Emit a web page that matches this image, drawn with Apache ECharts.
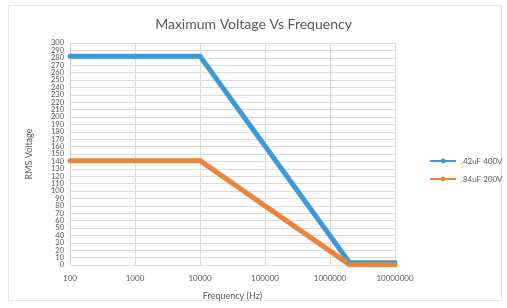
<!DOCTYPE html>
<html>
<head>
<meta charset="utf-8">
<script src="https://cdn.jsdelivr.net/npm/echarts@6/dist/echarts.min.js"></script>
<style>
  html, body { margin: 0; padding: 0; background: #fff; }
  #chart { width: 507px; height: 308px; }
</style>
</head>
<body>
<div id="chart"></div>
<script>
// frequency (Hz) breakpoints and voltages
const freq = [100, 10000, 2000000, 10000000];
const v400 = [282, 282, 3, 3];
const v200 = [141, 141, 0.5, 0.5];
const seriesNames = ['.42uF 400V', '.84uF 200V'];
const colors = ['#3e9ad6', '#e8853f'];
// labels that ECharts drops next to the end labels, drawn by a second axis
const edgeTicks = [10, 290];

const chart = echarts.init(document.getElementById('chart'));

const pairs = (xs, ys) => xs.map((x, i) => [x, ys[i]]);

const yLabel = { fontSize: 7.5, color: '#595959', margin: 6 };

const option = {
  animation: false,
  textStyle: { fontFamily: 'Lato, "Open Sans", sans-serif' },
  title: {
    text: 'Maximum Voltage Vs Frequency',
    left: 'center',
    top: 12,
    textStyle: { fontSize: 14, fontWeight: 'normal', color: '#595959', fontFamily: 'Lato, sans-serif' }
  },
  graphic: [{
    type: 'rect',
    shape: { x: 8.5, y: 5.5, width: 493, height: 295 },
    style: { fill: 'none', stroke: '#e6e6e6', lineWidth: 1 },
    silent: true
  }],
  grid: { left: 70, right: 112, top: 43, bottom: 43 },
  legend: {
    orient: 'vertical',
    left: 424,
    top: 152,
    itemWidth: 26,
    itemHeight: 6,
    itemGap: 10,
    textStyle: { fontSize: 8, color: '#595959' },
    data: seriesNames
  },
  xAxis: {
    type: 'log',
    logBase: 10,
    min: 100,
    max: 10000000,
    name: 'Frequency (Hz)',
    nameLocation: 'middle',
    nameGap: 27,
    nameTextStyle: { fontSize: 9, color: '#595959' },
    axisLine: { show: false },
    axisTick: { show: false },
    axisLabel: { fontSize: 8, color: '#595959', margin: 9, formatter: v => String(Math.round(v)) },
    splitLine: { show: true, lineStyle: { color: '#dcdcdc' } }
  },
  yAxis: [
    {
      type: 'value',
      min: 0,
      max: 300,
      interval: 10,
      name: 'RMS Voltage',
      nameLocation: 'middle',
      nameGap: 36,
      nameTextStyle: { fontSize: 9, color: '#595959' },
      axisLine: { show: true, lineStyle: { color: '#d0d0d0' } },
      axisTick: { show: false },
      axisLabel: Object.assign({ showMinLabel: true, showMaxLabel: true }, yLabel),
      splitLine: { show: true, lineStyle: { color: '#dcdcdc' } }
    },
    {
      type: 'value',
      position: 'left',
      min: 0,
      max: 300,
      interval: 10,
      axisLine: { show: false },
      axisTick: { show: false },
      splitLine: { show: false },
      axisLabel: Object.assign({
        showMinLabel: false, showMaxLabel: false,
        formatter: v => edgeTicks.includes(v) ? String(v) : ''
      }, yLabel)
    }
  ],
  series: [
    {
      name: seriesNames[0],
      type: 'line',
      data: pairs(freq, v400),
      color: colors[0],
      symbol: 'circle',
      symbolSize: 5,
      lineStyle: { width: 5, color: colors[0] }
    },
    {
      name: seriesNames[1],
      type: 'line',
      data: pairs(freq, v200),
      color: colors[1],
      symbol: 'circle',
      symbolSize: 5,
      lineStyle: { width: 5, color: colors[1] }
    }
  ]
};

chart.setOption(option);
</script>
</body>
</html>
